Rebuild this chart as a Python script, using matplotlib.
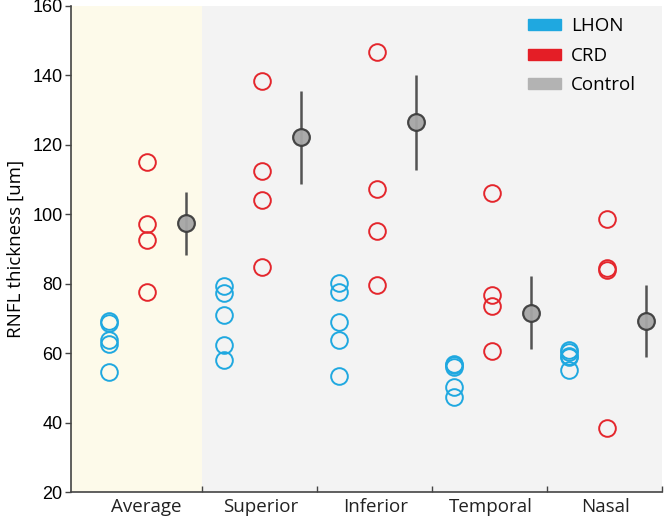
import numpy as np
import matplotlib
matplotlib.use('Agg')
import matplotlib.pyplot as plt
from matplotlib.patches import Patch

categories = ['Average', 'Superior', 'Inferior', 'Temporal', 'Nasal']

lhon = [[69.3, 68.6, 63.8, 62.5, 54.6],
        [79.3, 77.2, 71.0, 62.3, 58.0],
        [80.3, 77.5, 69.0, 63.8, 53.5],
        [57.0, 56.5, 55.9, 50.3, 47.4],
        [60.8, 60.2, 59.3, 59.0, 55.1]]

crd = [[115.0, 97.1, 92.6, 77.6],
       [138.5, 112.5, 104.1, 84.9],
       [146.6, 107.3, 95.2, 79.6],
       [106.0, 76.7, 73.6, 60.7],
       [98.5, 84.6, 84.0, 38.5]]

control_mean = [97.4, 122.2, 126.5, 71.6, 69.3]
control_sd = [9.0, 13.4, 13.7, 10.5, 10.3]

blue = '#1fa8e0'
red = '#e4262c'
grey = '#a6a6a6'

fig = plt.figure(figsize=(6.64, 5.19), dpi=100)
ax = fig.add_axes([0.1065, 0.052, 0.891, 0.9365])

ax.set_facecolor('#f3f3f3')
ax.set_xlim(0.356, 5.5)
ax.set_ylim(20, 160)
ax.axvspan(0.356, 1.5, color='#fdfaea', zorder=0, lw=0)

for i, cat in enumerate(categories):
    c = i + 1
    ax.plot([c - 0.31] * len(lhon[i]), lhon[i], 'o', ms=12, mfc='none',
            mec=blue, mew=1.4, zorder=3)
    ax.plot([c + 0.02] * len(crd[i]), crd[i], 'o', ms=12, mfc='none',
            mec=red, mew=1.4, zorder=3)
    ax.errorbar(c + 0.36, control_mean[i], yerr=control_sd[i], fmt='o',
                ms=12, mfc=grey, mec='#3d3d3d', mew=1.6, ecolor='#4a4a4a',
                elinewidth=1.8, capsize=0, zorder=4, alpha=0.95)

# category labels at centres, boundary ticks pointing inward
ax.set_xticks([c + 1.01 for c in range(len(categories))])
ax.set_xticklabels(categories, family='Open Sans', fontsize=13.5)
ax.tick_params(axis='x', which='major', length=0, pad=4, colors='#222222')
ax.set_xticks(np.arange(1.5, 6.0, 1.0), minor=True)
ax.tick_params(axis='x', which='minor', direction='in', length=4,
               width=1, color='#444444')

ax.set_yticks(np.arange(20, 161, 20))
ax.tick_params(axis='y', direction='out', length=4, width=1,
               color='#444444', labelsize=13, pad=2)
for lab in ax.get_yticklabels():
    lab.set_family('Liberation Sans')

ax.set_ylabel('RNFL thickness [um]', family='Open Sans', fontsize=13.5,
              labelpad=5)

for s in ['top', 'right']:
    ax.spines[s].set_visible(False)
for s in ['left', 'bottom']:
    ax.spines[s].set_color('#444444')
    ax.spines[s].set_linewidth(1.2)

handles = [Patch(color=blue, label='LHON'),
           Patch(color='#e41e26', label='CRD'),
           Patch(color='#b3b3b3', label='Control')]
ax.legend(handles=handles, loc='upper right', bbox_to_anchor=(0.975, 1.0),
          frameon=False, prop={'family': 'Open Sans', 'size': 13.5},
          handlelength=1.75, handleheight=0.5, labelspacing=0.62,
          handletextpad=0.55, borderaxespad=0.2)

fig.savefig('out.png', dpi=100)
